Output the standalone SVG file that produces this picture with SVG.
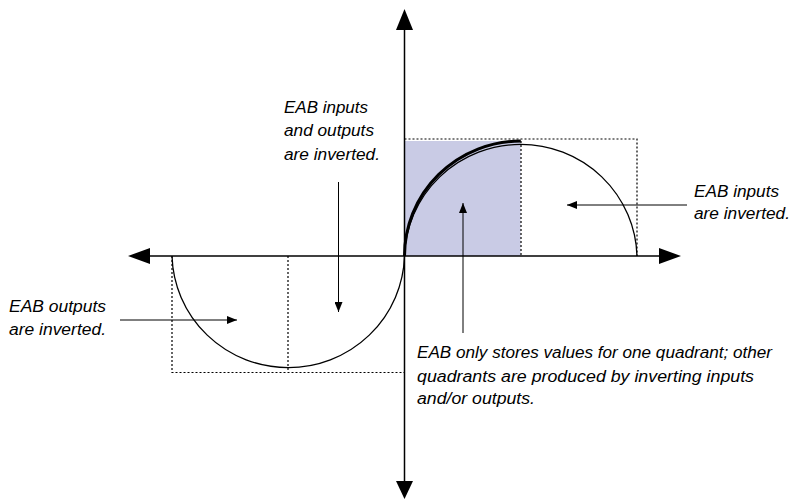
<svg xmlns="http://www.w3.org/2000/svg" width="792" height="500" viewBox="0 0 792 500">
<style>
.ax{stroke:#000;stroke-width:1.5;fill:none}
.dash{stroke:#000;stroke-width:1.2;stroke-dasharray:2,2;fill:none}
.curve{stroke:#000;stroke-width:1.3;fill:none}
.ptr{stroke:#000;stroke-width:1;fill:none;marker-end:url(#sm)}
.lbl{font-family:"Liberation Sans",Arial,sans-serif;font-style:italic;font-size:17.4px;fill:#000}
</style>
<defs>
<marker id="sm" viewBox="0 0 10 8" refX="10" refY="4" markerWidth="10" markerHeight="8" markerUnits="userSpaceOnUse" orient="auto">
<path d="M0,0 L10,4 L0,8 Z" fill="#000"/>
</marker>
</defs>
<rect width="792" height="500" fill="#fff"/>
<g id="shade">
<rect x="404.5" y="141" width="116" height="115" fill="#c9cbe5"/>
</g>
<g id="guides">
<path class="dash" d="M404.5,139 H637 V256"/>
<path class="dash" d="M521,141 V256"/>
<path class="dash" d="M172,256 V372.5 H404.5"/>
<path class="dash" d="M288,256 V372"/>
</g>
<g id="curves">
<path class="curve" d="M404.5,256 A116.3,115 0 0 1 637,256"/>
<path class="curve" d="M172,256 A116.3,115 0 0 0 404.5,256"/>
<path d="M404.5,256 A116.3,115 0 0 1 520.8,141" stroke="#000" stroke-width="3" fill="none"/>
</g>
<g id="axes">
<line class="ax" x1="148" y1="256" x2="662" y2="256"/>
<line class="ax" x1="404.5" y1="28" x2="404.5" y2="482"/>
<path d="M128,256 L150,248 L150,264 Z" fill="#000"/>
<path d="M681,256 L659,248 L659,264 Z" fill="#000"/>
<path d="M404.5,9 L396,30 L413,30 Z" fill="#000"/>
<path d="M404.5,499 L396,481 L413,481 Z" fill="#000"/>
</g>
<g id="connectors">
<line class="ptr" x1="338.5" y1="182" x2="338.5" y2="312"/>
<line class="ptr" x1="120" y1="320" x2="237" y2="320"/>
<line class="ptr" x1="687" y1="205" x2="567" y2="205"/>
<line class="ptr" x1="463" y1="333" x2="463" y2="203"/>
</g>
<g id="label-top">
<text class="lbl" x="284" y="112.5" textLength="84" lengthAdjust="spacingAndGlyphs">EAB inputs</text>
<text class="lbl" x="284" y="136" textLength="90" lengthAdjust="spacingAndGlyphs">and outputs</text>
<text class="lbl" x="284" y="159.5" textLength="96" lengthAdjust="spacingAndGlyphs">are inverted.</text>
</g>
<g id="label-left">
<text class="lbl" x="9" y="312" textLength="97" lengthAdjust="spacingAndGlyphs">EAB outputs</text>
<text class="lbl" x="9" y="335" textLength="97" lengthAdjust="spacingAndGlyphs">are inverted.</text>
</g>
<g id="label-right">
<text class="lbl" x="694" y="196.5" textLength="85" lengthAdjust="spacingAndGlyphs">EAB inputs</text>
<text class="lbl" x="694" y="219" textLength="96" lengthAdjust="spacingAndGlyphs">are inverted.</text>
</g>
<g id="label-bottom">
<text class="lbl" x="417" y="358.3" textLength="355" lengthAdjust="spacingAndGlyphs">EAB only stores values for one quadrant; other</text>
<text class="lbl" x="417" y="381.5" textLength="337" lengthAdjust="spacingAndGlyphs">quadrants are produced by inverting inputs</text>
<text class="lbl" x="417" y="403.5" textLength="118" lengthAdjust="spacingAndGlyphs">and/or outputs.</text>
</g>
</svg>
